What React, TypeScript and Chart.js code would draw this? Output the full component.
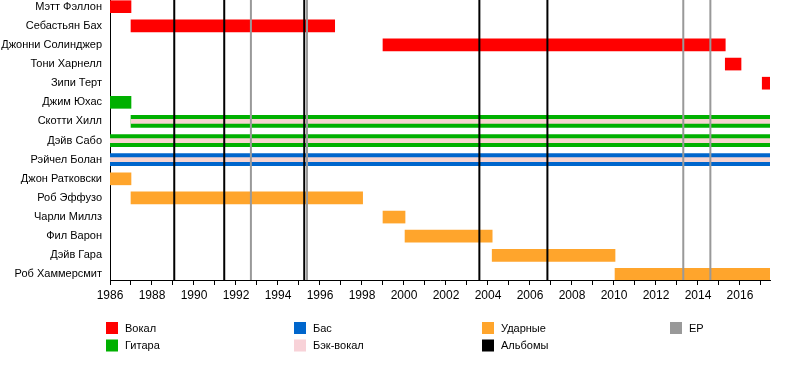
import React, { useEffect, useRef } from 'react';
import { Chart, registerables } from 'chart.js';

Chart.register(...registerables);

// ---------- data ----------
const MEMBERS = [
  'Мэтт Фэллон',
  'Себастьян Бах',
  'Джонни Солинджер',
  'Тони Харнелл',
  'Зипи Терт',
  'Джим Юхас',
  'Скотти Хилл',
  'Дэйв Сабо',
  'Рэйчел Болан',
  'Джон Ратковски',
  'Роб Эффузо',
  'Чарли Миллз',
  'Фил Варон',
  'Дэйв Гара',
  'Роб Хаммерсмит',
];

const END = 2017.43;

// [member row, start year, end year]
const VOCAL_SPANS = [
  [0, 1986, 1987],
  [1, 1987, 1996.7],
  [2, 1999, 2015.3],
  [3, 2015.3, 2016.05],
  [4, 2017.06, END],
];
const GUITAR_SPANS = [
  [5, 1986, 1987],
  [6, 1987, END],
  [7, 1986, END],
];
const BASS_SPANS = [[8, 1986, END]];
const DRUM_SPANS = [
  [9, 1986, 1987],
  [10, 1987, 1998.03],
  [11, 1999, 2000.05],
  [12, 2000.05, 2004.2],
  [13, 2004.2, 2010.05],
  [14, 2010.05, END],
];
const BACKING_SPANS = [
  [6, 1987, END],
  [7, 1986, END],
  [8, 1986, END],
];
const ALBUMS = [1989.06, 1991.44, 1995.25, 2003.59, 2006.83];
const EPS = [1992.71, 1995.38, 2013.3, 2014.59];

const YEAR_TICKS = Array.from({ length: 32 }, (_, i) => 1986 + i);

const LEGEND_LABELS = ['Вокал', 'Бас', 'Ударные', 'EP', 'Гитара', 'Бэк-вокал', 'Альбомы'];
const LEGEND_COLORS = ['#ff0000', '#0066cc', '#ffa52c', '#999999', '#00b000', '#f8d2d8', '#000000'];

// ---------- styling ----------
const FONT = '"Liberation Sans", Arial, sans-serif';
const Y_MIN = -0.35;
const Y_MAX = 14.29;

function toBars(spans: number[][]) {
  return spans.map(([row, s, e]) => ({ y: row, x: [s, e] }));
}

function vline(x: number) {
  return [
    { x, y: Y_MIN },
    { x, y: Y_MAX },
  ];
}

const legendPlugin = {
  id: 'customLegend',
  afterDraw(chart: any) {
    const ctx = chart.ctx;
    ctx.save();
    ctx.font = `11px ${FONT}`;
    ctx.textBaseline = 'middle';
    ctx.textAlign = 'left';
    LEGEND_LABELS.forEach((label, i) => {
      const col = i < 4 ? i : i - 4;
      const row = i < 4 ? 0 : 1;
      const x = 106 + col * 188;
      const y = 322 + row * 17.5;
      ctx.fillStyle = LEGEND_COLORS[i];
      ctx.fillRect(x, y, 12, 12);
      ctx.fillStyle = '#000';
      ctx.fillText(label, x + 19, y + 6.5);
    });
    ctx.restore();
  },
};

export default function App() {
  const ref = useRef<HTMLCanvasElement>(null);

  useEffect(() => {
    if (!ref.current) return;
    const barBase = {
      type: 'bar' as const,
      grouped: false,
      borderWidth: 0,
      borderSkipped: false,
    };
    const datasets: any[] = [
      { ...barBase, label: 'Вокал', data: toBars(VOCAL_SPANS), backgroundColor: '#ff0000', barThickness: 12, order: 5 },
      { ...barBase, label: 'Гитара', data: toBars(GUITAR_SPANS), backgroundColor: '#00b000', barThickness: 12, order: 5 },
      { ...barBase, label: 'Бас', data: toBars(BASS_SPANS), backgroundColor: '#0066cc', barThickness: 12, order: 5 },
      { ...barBase, label: 'Ударные', data: toBars(DRUM_SPANS), backgroundColor: '#ffa52c', barThickness: 12, order: 5 },
      { ...barBase, label: 'Бэк-вокал', data: toBars(BACKING_SPANS), backgroundColor: '#f6d4d0', barThickness: 4, order: 4 },
      ...EPS.map((x) => ({
        type: 'line' as const,
        label: 'EP',
        data: vline(x),
        borderColor: '#999999',
        borderWidth: 2,
        pointRadius: 0,
        order: 1,
      })),
      ...ALBUMS.map((x) => ({
        type: 'line' as const,
        label: 'Альбомы',
        data: vline(x),
        borderColor: '#000000',
        borderWidth: 2,
        pointRadius: 0,
        order: 0,
      })),
    ];

    const chart = new Chart(ref.current, {
      type: 'bar',
      data: { datasets },
      plugins: [legendPlugin],
      options: {
        responsive: false,
        animation: false,
        indexAxis: 'y',
        layout: { padding: { top: 0, left: 0, right: 30, bottom: 76 } },
        plugins: {
          legend: { display: false },
          tooltip: { enabled: false },
        },
        scales: {
          x: {
            type: 'linear',
            min: 1986,
            max: END,
            offset: false,
            afterBuildTicks: (scale: any) => {
              scale.ticks = YEAR_TICKS.map((v) => ({ value: v }));
            },
            afterFit: (scale: any) => {
              scale.height = 24;
              scale.paddingLeft = 0;
              scale.paddingRight = 0;
            },
            grid: {
              offset: false,
              drawOnChartArea: false,
              drawTicks: true,
              tickLength: 5,
              color: '#000',
              lineWidth: 1,
            },
            border: { display: true, color: '#000', width: 1 },
            ticks: {
              autoSkip: false,
              maxRotation: 0,
              padding: 3,
              color: '#000',
              font: { family: FONT, size: 12 },
              callback: (v: any) => (Number(v) % 2 === 0 ? String(v) : ''),
            },
          },
          y: {
            type: 'linear',
            reverse: true,
            offset: false,
            min: Y_MIN,
            max: Y_MAX,
            afterBuildTicks: (scale: any) => {
              scale.ticks = MEMBERS.map((_, i) => ({ value: i }));
            },
            afterFit: (scale: any) => {
              scale.width = 110;
              scale.paddingTop = 0;
              scale.paddingBottom = 0;
            },
            grid: { display: false, drawTicks: false, offset: false },
            border: { display: true, color: '#000', width: 1 },
            ticks: {
              autoSkip: false,
              padding: 8,
              color: '#000',
              font: { family: FONT, size: 11 },
              callback: (v: any) => MEMBERS[Number(v)] ?? '',
            },
          },
        },
      } as any,
    });
    return () => chart.destroy();
  }, []);

  return (
    <div style={{ position: 'absolute', left: 0, top: 0, width: 800, height: 380, background: '#fff' }}>
      <canvas ref={ref} width={800} height={380} style={{ width: 800, height: 380 }} />
    </div>
  );
}
